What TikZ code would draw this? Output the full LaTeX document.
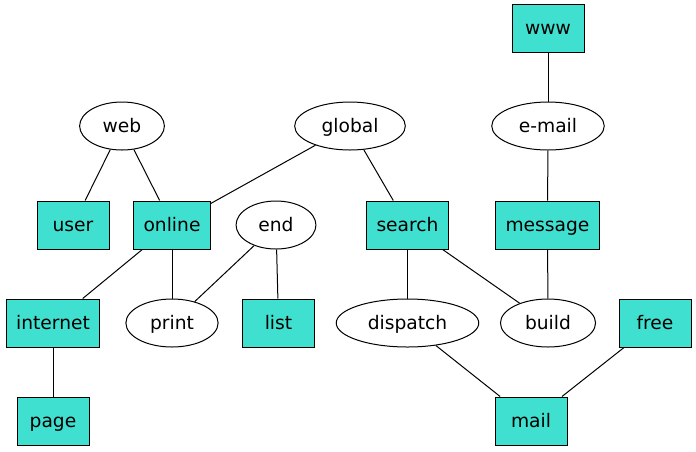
\documentclass[tikz,border=0pt]{standalone}
\usepackage{fontspec}
\setmainfont{DejaVu Sans}
\usetikzlibrary{shapes.geometric}
\definecolor{turq}{RGB}{64,224,208}
\begin{document}
\begin{tikzpicture}[x=0.75pt, y=-0.75pt,
	every node/.style={font=\fontsize{14}{17}\selectfont, draw=black, line width=0.75pt, text height=12pt, text depth=2.6pt},
	box/.style={rectangle, fill=turq, minimum width=54pt, minimum height=36pt, inner xsep=7.5pt},
	oval/.style={ellipse, fill=white, minimum width=54pt, minimum height=36pt, inner xsep=8pt}]
	\useasboundingbox (0,0) rectangle (696,451);
	
	% Draw top rows
	\node[box] (www) at (548,28) {www};
	\node[oval] (web) at (122,126) {web};
	\node[oval] (global) at (350,126) {global};
	\node[oval] (email) at (548,126) {e-mail};
	
	% Draw middle row
	\node[box] (user) at (73,225) {user};
	\node[box] (online) at (172,225) {online};
	\node[oval] (end) at (276,225) {end};
	\node[box] (search) at (407.5,225) {search};
	\node[box] (message) at (547.5,225) {message};
	
	% Draw lower rows
	\node[box] (internet) at (53,323) {internet};
	\node[oval] (print) at (172,323) {print};
	\node[box] (list) at (278.5,323) {list};
	\node[oval] (dispatch) at (407.5,323) {dispatch};
	\node[oval] (build) at (548,323) {build};
	\node[box] (free) at (655,323) {free};
	\node[box] (page) at (53,421) {page};
	\node[box] (mail) at (531,421) {mail};
	
	% Draw edges
	\foreach \a/\b in {www/email, email/message, message/build, web/user, web/online,
		global/online, global/search, search/dispatch, search/build, online/internet,
		online/print, end/print, end/list, internet/page, dispatch/mail, free/mail}
	\draw[line width=0.75pt] (\a) -- (\b);
	
\end{tikzpicture}
\end{document}
